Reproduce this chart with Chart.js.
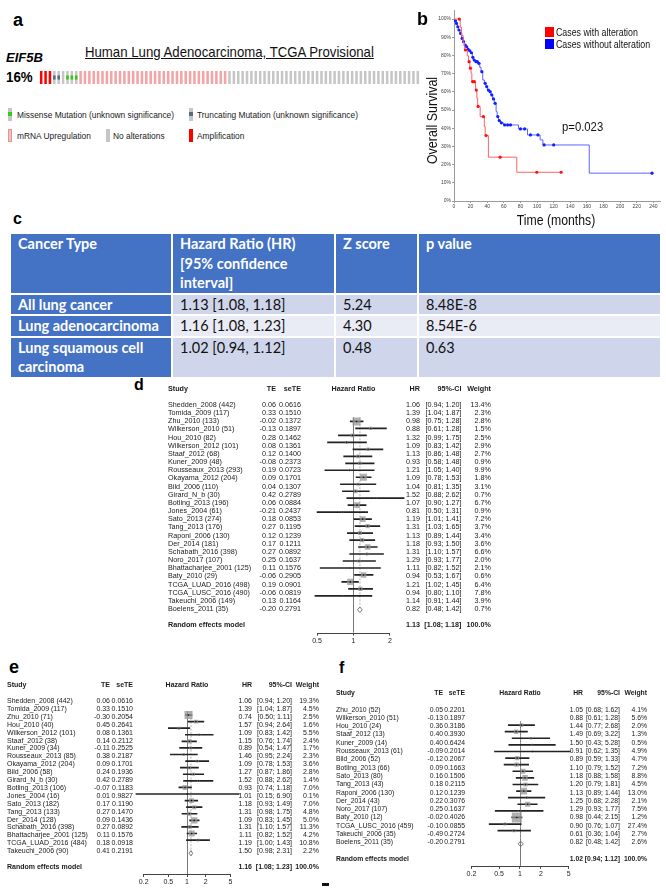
<!DOCTYPE html>
<html>
<head>
<meta charset="utf-8">
<title>EIF5B figure</title>
<script src="https://cdn.jsdelivr.net/npm/chart.js@4.4.1/dist/chart.umd.min.js"></script>
<style>
  html, body { margin: 0; padding: 0; background: #fff; }
  #fig { position: relative; width: 666px; height: 894px; overflow: hidden;
         font-family: "Liberation Sans", Arial, Helvetica, sans-serif; color: #1a1a1a; }
  .t { position: absolute; white-space: nowrap; }
  .box { position: absolute; }
  .box canvas { display: block; }
  .ico { position: absolute; width: 4px; height: 13px; background: #c8c8c8; }
  .ico i { position: absolute; left: 0; top: 4.5px; width: 4px; height: 4px; }
  #tbl { position: absolute; left: 9px; top: 232px; width: 651px; border-collapse: collapse;
         table-layout: fixed; font-family: Lato, "Open Sans", sans-serif; font-size: 14.5px; }
  #tbl td { border: 2px solid #fff; padding: 0 0 0 7px; vertical-align: top; line-height: 19.5px;
            background: #cfd5ea; color: #111; white-space: pre-line; }
  #tbl tr.alt td { background: #e9ebf5; }
  #tbl tr.hd td, #tbl tr td.c1 { background: #4472c4; color: #fff; font-weight: bold; }
</style>
</head>
<body>
<div id="fig">
  <div class="box" style="left:39px;top:71px;width:381px;height:13px"><canvas id="onco" width="381" height="13"></canvas></div>
  <div class="box" style="left:400px;top:0px;width:266px;height:230px"><canvas id="km" width="266" height="230"></canvas></div>
  <table id="tbl">
    <colgroup><col style="width:162px"><col style="width:163px"><col style="width:83px"><col style="width:243px"></colgroup>
    <tbody id="tbody"></tbody>
  </table>
  <div class="box" style="left:296px;top:395px;width:124px;height:252px"><canvas id="fd" width="124" height="252"></canvas></div>
  <div class="box" style="left:124px;top:690px;width:126px;height:204px"><canvas id="fe" width="126" height="204"></canvas></div>
  <div class="box" style="left:460px;top:698px;width:122px;height:196px"><canvas id="ff" width="122" height="196"></canvas></div>
  <div class="box" style="left:322px;top:883px;width:7px;height:3px;background:#111"></div>
</div>
<script>
// ---------- data ----------
// panel a: sample runs in the oncoprint (A amplification, T truncating, M missense, U mRNA up, N none)
const oncoRuns = [['A', 3], ['T', 2], ['N', 1], ['M', 3], ['U', 34], ['N', 44]];

// panel b: Kaplan-Meier, cases with alteration
const altTime = [0, 7.5, 9, 11, 12.5, 16, 17.5, 19, 20.5, 21.5, 26, 27.5, 28.5, 31.5, 36.5, 37.5, 41.4, 75.6, 129];
const altSurv = [100, 95.5, 91, 87, 83, 79.8, 76.6, 73, 70.2, 65.6, 61, 56.5, 52, 46.4, 41, 36, 24.1, 15.8, 15.8];
const altCensTime = [6.4, 13.8, 18.2, 19.8, 22.5, 24.5, 26.8, 29, 35.4, 38.6, 55.5, 99.7, 129];
const altCensSurv = [100, 83, 76.6, 73, 65.6, 65.6, 61, 52, 46.4, 36, 24.1, 15.8, 15.8];
// cases without alteration
const noTime = [0, 1.2, 2.4, 4, 5.2, 7.2, 9.2, 10.5, 12.5, 14.5, 16.1, 18.1, 20.1, 22.1, 23.3, 25.3, 29.4, 31, 32.6,
  34.6, 36.6, 38.5, 40.2, 42.6, 44.5, 46.6, 48.5, 50.7, 52, 53.5, 56, 59.5, 77.6, 88.5, 103.7, 107, 162.8, 238.4];
const noSurv = [100, 99.1, 97.6, 95.8, 94, 92.1, 89.4, 87.6, 85.7, 84.8, 83.4, 82.6, 81.5, 79, 77.5, 76.6, 75.7, 73.5, 71.1,
  66.5, 64.7, 62.9, 61, 60.1, 58.3, 56.1, 53.7, 49.1, 46.4, 44.2, 43, 41.8, 39.6, 36.3, 33.6, 30.8, 15.3, 15.3];
const noCensTime = [1.8, 3, 4.6, 6, 8, 9.8, 11.5, 13.5, 15.3, 17, 19, 21, 22.7, 24.3, 26.5, 28, 30, 33.5, 37.5, 39.4,
  41.4, 43.5, 45.5, 47.5, 49.5, 52.7, 54.5, 57, 61, 64.5, 68, 80, 85, 92, 101, 108.5, 120, 238.4];
const noCensSurv = [99.1, 97.6, 95.8, 94, 92.1, 89.4, 87.6, 85.7, 84.8, 83.4, 82.6, 81.5, 79, 77.5, 76.6, 76.6, 75.7, 71.1, 64.7, 62.9,
  61, 60.1, 58.3, 56.1, 53.7, 46.4, 44.2, 43, 41.8, 41.8, 41.8, 39.6, 39.6, 36.3, 36.3, 30.8, 30.8, 15.3];
const kmXTicks = [0, 20, 40, 60, 80, 100, 120, 140, 160, 180, 200, 220, 240];
const kmYTicks = [0, 10, 20, 30, 40, 50, 60, 70, 80, 90, 100];

// panel c: table
const tblHead = ['Cancer Type', 'Hazard Ratio (HR)\n[95% confidence\ninterval]', 'Z score', 'p value'];
const tblType = ['All lung cancer', 'Lung adenocarcinoma', 'Lung squamous cell\ncarcinoma'];
const tblHR = ['1.13 [1.08, 1.18]', '1.16 [1.08, 1.23]', '1.02 [0.94, 1.12]'];
const tblZ = ['5.24', '4.30', '0.48'];
const tblP = ['8.48E-8', '8.54E-6', '0.63'];

// panel d: all lung cancer
const dStudy = ['Shedden_2008 (442)', 'Tomida_2009 (117)', 'Zhu_2010 (133)', 'Wilkerson_2010 (51)', 'Hou_2010 (82)',
  'Wilkerson_2012 (101)', 'Staaf_2012 (68)', 'Kuner_2009 (48)', 'Rousseaux_2013 (293)', 'Okayama_2012 (204)',
  'Bild_2006 (110)', 'Girard_N_b (30)', 'Botling_2013 (196)', 'Jones_2004 (61)', 'Sato_2013 (274)', 'Tang_2013 (176)',
  'Raponi_2006 (130)', 'Der_2014 (181)', 'Schabath_2016 (398)', 'Noro_2017 (107)', 'Bhattacharjee_2001 (125)',
  'Baty_2010 (29)', 'TCGA_LUAD_2016 (498)', 'TCGA_LUSC_2016 (490)', 'Takeuchi_2006 (149)', 'Boelens_2011 (35)'];
const dTE = [0.06, 0.33, -0.02, -0.13, 0.28, 0.08, 0.12, -0.08, 0.19, 0.09, 0.04, 0.42, 0.06, -0.21, 0.18, 0.27, 0.12,
  0.17, 0.27, 0.25, 0.11, -0.06, 0.19, -0.06, 0.13, -0.20];
const dSeTE = [0.0616, 0.1510, 0.1372, 0.1897, 0.1462, 0.1361, 0.1400, 0.2373, 0.0723, 0.1701, 0.1307, 0.2789, 0.0884,
  0.2437, 0.0853, 0.1195, 0.1239, 0.1211, 0.0892, 0.1637, 0.1576, 0.2905, 0.0901, 0.0819, 0.1164, 0.2791];
const dHR = [1.06, 1.39, 0.98, 0.88, 1.32, 1.09, 1.13, 0.93, 1.21, 1.09, 1.04, 1.52, 1.07, 0.81, 1.19, 1.31, 1.13, 1.18,
  1.31, 1.29, 1.11, 0.94, 1.21, 0.94, 1.14, 0.82];
const dLo = [0.94, 1.04, 0.75, 0.61, 0.99, 0.83, 0.86, 0.58, 1.05, 0.78, 0.81, 0.88, 0.90, 0.50, 1.01, 1.03, 0.89, 0.93,
  1.10, 0.93, 0.82, 0.53, 1.02, 0.80, 0.91, 0.48];
const dHi = [1.20, 1.87, 1.28, 1.28, 1.75, 1.42, 1.48, 1.48, 1.40, 1.53, 1.35, 2.62, 1.27, 1.31, 1.41, 1.65, 1.44, 1.50,
  1.57, 1.77, 1.52, 1.67, 1.45, 1.10, 1.44, 1.42];
const dWt = [13.4, 2.3, 2.8, 1.5, 2.5, 2.9, 2.7, 0.9, 9.9, 1.8, 3.1, 0.7, 6.7, 0.9, 7.2, 3.7, 3.4, 3.6, 6.6, 2.0, 2.1,
  0.6, 6.4, 7.8, 3.9, 0.7];
const dRE = [1.13, 1.08, 1.18];
const dTicks = [0.5, 1, 2];

// panel e: lung adenocarcinoma
const eStudy = ['Shedden_2008 (442)', 'Tomida_2009 (117)', 'Zhu_2010 (71)', 'Hou_2010 (40)', 'Wilkerson_2012 (101)',
  'Staaf_2012 (38)', 'Kuner_2009 (34)', 'Rousseaux_2013 (85)', 'Okayama_2012 (204)', 'Bild_2006 (58)', 'Girard_N_b (30)',
  'Botling_2013 (106)', 'Jones_2004 (16)', 'Sato_2013 (182)', 'Tang_2013 (133)', 'Der_2014 (128)', 'Schabath_2016 (398)',
  'Bhattacharjee_2001 (125)', 'TCGA_LUAD_2016 (484)', 'Takeuchi_2006 (90)'];
const eTE = [0.06, 0.33, -0.30, 0.45, 0.08, 0.14, -0.11, 0.38, 0.09, 0.24, 0.42, -0.07, 0.01, 0.17, 0.27, 0.09, 0.27,
  0.11, 0.18, 0.41];
const eSeTE = [0.0616, 0.1510, 0.2054, 0.2641, 0.1361, 0.2112, 0.2525, 0.2187, 0.1701, 0.1936, 0.2789, 0.1183, 0.9827,
  0.1190, 0.1470, 0.1436, 0.0892, 0.1576, 0.0918, 0.2191];
const eHR = [1.06, 1.39, 0.74, 1.57, 1.09, 1.15, 0.89, 1.46, 1.09, 1.27, 1.52, 0.93, 1.01, 1.18, 1.31, 1.09, 1.31, 1.11,
  1.19, 1.50];
const eLo = [0.94, 1.04, 0.50, 0.94, 0.83, 0.76, 0.54, 0.95, 0.78, 0.87, 0.88, 0.74, 0.15, 0.93, 0.98, 0.83, 1.10, 0.82,
  1.00, 0.98];
const eHi = [1.20, 1.87, 1.11, 2.64, 1.42, 1.74, 1.47, 2.24, 1.53, 1.86, 2.62, 1.18, 6.90, 1.49, 1.75, 1.45, 1.57, 1.52,
  1.43, 2.31];
const eWt = [19.3, 4.5, 2.5, 1.6, 5.5, 2.4, 1.7, 2.3, 3.6, 2.8, 1.4, 7.0, 0.1, 7.0, 4.8, 5.0, 11.3, 4.2, 10.8, 2.2];
const eRE = [1.16, 1.08, 1.23];

// panel f: lung squamous cell carcinoma
const fStudy = ['Zhu_2010 (52)', 'Wilkerson_2010 (51)', 'Hou_2010 (24)', 'Staaf_2012 (13)', 'Kuner_2009 (14)',
  'Rousseaux_2013 (61)', 'Bild_2006 (52)', 'Botling_2013 (66)', 'Sato_2013 (80)', 'Tang_2013 (43)', 'Raponi_2006 (130)',
  'Der_2014 (43)', 'Noro_2017 (107)', 'Baty_2010 (12)', 'TCGA_LUSC_2016 (459)', 'Takeuchi_2006 (35)', 'Boelens_2011 (35)'];
const fTE = [0.05, -0.13, 0.36, 0.40, 0.40, -0.09, -0.12, 0.09, 0.16, 0.18, 0.12, 0.22, 0.25, -0.02, -0.10, -0.49, -0.20];
const fSeTE = [0.2201, 0.1897, 0.3186, 0.3930, 0.6424, 0.2014, 0.2067, 0.1663, 0.1506, 0.2115, 0.1239, 0.3076, 0.1637,
  0.4026, 0.0855, 0.2724, 0.2791];
const fHR = [1.05, 0.88, 1.44, 1.49, 1.50, 0.91, 0.89, 1.10, 1.18, 1.20, 1.13, 1.25, 1.29, 0.98, 0.90, 0.61, 0.82];
const fLo = [0.68, 0.61, 0.77, 0.69, 0.43, 0.62, 0.59, 0.79, 0.88, 0.79, 0.89, 0.68, 0.93, 0.44, 0.76, 0.36, 0.48];
const fHi = [1.62, 1.28, 2.68, 3.22, 5.28, 1.35, 1.33, 1.52, 1.58, 1.81, 1.44, 2.28, 1.77, 2.15, 1.07, 1.04, 1.42];
const fWt = [4.1, 5.6, 2.0, 1.3, 0.5, 4.9, 4.7, 7.2, 8.8, 4.5, 13.0, 2.1, 7.5, 1.2, 27.4, 2.7, 2.6];
const fRE = [1.02, 0.94, 1.12];
const efTicks = [0.2, 0.5, 1, 2, 5];

// ---------- helpers ----------
Chart.defaults.font.family = '"Liberation Sans", Arial, sans-serif';
const fig = document.getElementById('fig');

function put(s, x, y, o = {}) {
  const el = document.createElement('div');
  el.className = 't';
  el.textContent = s;
  const fs = o.size || 7;
  const lh = Math.ceil(fs * 1.3);
  const w = o.w || 60;
  el.style.fontSize = fs + 'px';
  el.style.lineHeight = lh + 'px';
  el.style.top = (y - lh / 2) + 'px';
  if (o.bold) el.style.fontWeight = 'bold';
  if (o.italic) el.style.fontStyle = 'italic';
  if (o.color) el.style.color = o.color;
  if (o.underline) el.style.textDecoration = 'underline';
  if (o.align === 'right') {
    el.style.left = (x - w) + 'px'; el.style.width = w + 'px'; el.style.textAlign = 'right';
    el.style.transformOrigin = '100% 50%';
  } else if (o.align === 'center') {
    el.style.left = (x - w / 2) + 'px'; el.style.width = w + 'px'; el.style.textAlign = 'center';
    el.style.transformOrigin = '50% 50%';
  } else {
    el.style.left = x + 'px'; el.style.transformOrigin = '0 50%';
  }
  const tr = [];
  if (o.rotate) tr.push('rotate(' + o.rotate + 'deg)');
  if (o.sx) tr.push('scaleX(' + o.sx + ')');
  if (tr.length) el.style.transform = tr.join(' ');
  fig.appendChild(el);
  return el;
}

function icon(x, y, bg, mark, border) {
  const el = document.createElement('div');
  el.className = 'ico';
  el.style.left = x + 'px';
  el.style.top = y + 'px';
  el.style.background = bg;
  if (border) { el.style.boxSizing = 'border-box'; el.style.border = border; }
  if (mark) { const i = document.createElement('i'); i.style.background = mark; el.appendChild(i); }
  fig.appendChild(el);
}

// ---------- panel a ----------
put('a', 13, 20, { size: 18, bold: true, color: '#000' });
put('EIF5B', 6, 57, { size: 13, bold: true, italic: true, color: '#000' });
put('Human Lung Adenocarcinoma, TCGA Provisional', 85, 52, { size: 15, underline: true, sx: 0.88, color: '#111' });
put('16%', 6, 77, { size: 14, bold: true, sx: 0.95, color: '#000' });

const oncoSamples = oncoRuns.flatMap(([t, n]) => Array(n).fill(t));
const oncoFill = { A: '#ff0000', T: '#c6c6c6', M: '#c6c6c6', U: '#f4a4a4', N: '#c6c6c6' };
const oncoMark = { T: '#5a6b7c', M: '#35c81c' };

new Chart(document.getElementById('onco'), {
  type: 'bar',
  data: {
    labels: oncoSamples.map((_, i) => i + 1),
    datasets: [
      { data: oncoSamples.map(() => 1), backgroundColor: oncoSamples.map(t => oncoFill[t]),
        barPercentage: 0.58, categoryPercentage: 1, grouped: false, order: 2 },
      { data: oncoSamples.map(t => (oncoMark[t] ? [0.34, 0.66] : null)),
        backgroundColor: oncoSamples.map(t => oncoMark[t] || 'transparent'),
        barPercentage: 0.58, categoryPercentage: 1, grouped: false, order: 1 }
    ]
  },
  options: {
    responsive: false, animation: false,
    layout: { padding: 0 },
    plugins: { legend: { display: false }, tooltip: { enabled: false } },
    scales: { x: { display: false }, y: { display: false, min: 0, max: 1 } }
  }
});

icon(8, 107.5, '#c6c6c6', '#35c81c');
put('Missense Mutation (unknown significance)', 17, 114, { size: 9.5, sx: 0.88 });
icon(189, 107.5, '#c6c6c6', '#5a6b7c');
put('Truncating Mutation (unknown significance)', 197, 114, { size: 9.5, sx: 0.88 });
icon(8, 128.5, '#eac4c4', null, '1px solid #f09090');
put('mRNA Upregulation', 17, 135, { size: 9.5, sx: 0.88 });
icon(106, 128.5, '#c6c6c6');
put('No alterations', 113, 135, { size: 9.5, sx: 0.88 });
icon(189, 128.5, '#ff0000');
put('Amplification', 197, 135, { size: 9.5, sx: 0.88 });

// ---------- panel b ----------
put('b', 417, 19, { size: 18, bold: true, color: '#000' });
const pts = (xs, ys) => xs.map((v, i) => ({ x: v, y: ys[i] }));

new Chart(document.getElementById('km'), {
  type: 'line',
  data: {
    datasets: [
      { data: pts(noTime, noSurv), stepped: true, borderColor: '#5b66ff', borderWidth: 1, pointRadius: 0, order: 4 },
      { data: pts(noCensTime, noCensSurv), showLine: false, pointRadius: 1.6, backgroundColor: '#1020ff',
        borderWidth: 0, order: 3 },
      { data: pts(altTime, altSurv), stepped: true, borderColor: '#ff6060', borderWidth: 1, pointRadius: 0, order: 2 },
      { data: pts(altCensTime, altCensSurv), showLine: false, pointRadius: 1.6, backgroundColor: '#ff1010',
        borderWidth: 0, order: 1 }
    ]
  },
  options: {
    responsive: false, animation: false,
    layout: { padding: { top: 10, left: 0, right: 6, bottom: 15 } },
    plugins: { legend: { display: false }, tooltip: { enabled: false } },
    scales: {
      x: {
        type: 'linear', min: 0, max: 248,
        afterBuildTicks: s => { s.ticks = kmXTicks.map(v => ({ value: v })); },
        afterFit: s => { s.height = 14; },
        ticks: { font: { size: 5 }, color: '#444', padding: 1, maxRotation: 0, autoSkip: false },
        grid: { drawOnChartArea: false, tickLength: 2, color: '#9a9a9a' },
        border: { color: '#9a9a9a' }
      },
      y: {
        type: 'linear', min: 0, max: 105,
        afterBuildTicks: s => { s.ticks = kmYTicks.map(v => ({ value: v })); },
        afterFit: s => { s.width = 54; },
        ticks: { font: { size: 5 }, color: '#444', padding: 1, callback: v => v + '%' },
        grid: { drawOnChartArea: false, tickLength: 2, color: '#9a9a9a' },
        border: { color: '#9a9a9a' }
      }
    }
  }
});

put('Overall Survival', 432, 120, { size: 14, align: 'center', w: 120, rotate: -90, sx: 0.89, color: '#111' });
put('Time (months)', 555.5, 220, { size: 14, align: 'center', w: 110, sx: 0.875, color: '#111' });
put('p=0.023', 562, 126, { size: 13, sx: 0.87, color: '#111' });
const kmLeg = [['Cases with alteration', '#ff0000', 32], ['Cases without alteration', '#0000ff', 43.5]];
kmLeg.forEach(([s, c, y]) => {
  const sq = document.createElement('div');
  sq.className = 'box';
  Object.assign(sq.style, { left: '545px', top: (y - 5) + 'px', width: '9px', height: '10px', background: c });
  fig.appendChild(sq);
  put(s, 556, y, { size: 10.5, sx: 0.84, color: '#111' });
});

// ---------- panel c ----------
put('c', 13, 218, { size: 16, bold: true, color: '#000' });
const tbody = document.getElementById('tbody');
function row(cells, cls, h, firstCls) {
  const tr = document.createElement('tr');
  if (cls) tr.className = cls;
  tr.style.height = h + 'px';
  cells.forEach((s, i) => {
    const td = document.createElement('td');
    td.textContent = s;
    if (i === 0 && firstCls) td.className = firstCls;
    tr.appendChild(td);
  });
  tbody.appendChild(tr);
}
row(tblHead, 'hd', 58);
tblType.forEach((s, i) => row([s, tblHR[i], tblZ[i], tblP[i]], i === 1 ? 'alt' : '', i === 2 ? 39 : 19, 'c1'));

// ---------- forest plots ----------
const forestGuides = {
  id: 'forestGuides',
  beforeDatasetsDraw(chart, args, o) {
    const { ctx, scales: { x, y }, chartArea } = chart;
    ctx.save();
    const x1 = Math.round(x.getPixelForValue(1)) + 0.5;
    ctx.strokeStyle = '#555';
    ctx.lineWidth = 0.8;
    ctx.beginPath();
    ctx.moveTo(x1, y.getPixelForValue(-0.6));
    ctx.lineTo(x1, chartArea.bottom);
    ctx.stroke();
    const xp = x.getPixelForValue(o.pooled);
    ctx.strokeStyle = '#a0a0a0';
    ctx.setLineDash([2, 1.5]);
    ctx.beginPath();
    ctx.moveTo(xp, y.getPixelForValue(-0.6));
    ctx.lineTo(xp, y.getPixelForValue(o.reRow - 0.45));
    ctx.stroke();
    ctx.restore();
  },
  afterDraw(chart) {
    const { ctx, scales: { x }, chartArea } = chart;
    const t = x.ticks;
    const yb = Math.round(chartArea.bottom) + 0.5;
    ctx.save();
    ctx.strokeStyle = '#444';
    ctx.lineWidth = 1;
    ctx.beginPath();
    ctx.moveTo(x.getPixelForValue(t[0].value), yb);
    ctx.lineTo(x.getPixelForValue(t[t.length - 1].value), yb);
    ctx.stroke();
    ctx.restore();
  }
};

function forest(p) {
  const { L, T, W, H } = p.box;
  const top = p.y0 + p.yMin * p.pitch;
  const bottom = p.y0 + p.yMax * p.pitch;
  const left = p.x1 + p.ppd * Math.log10(p.min);
  const right = p.x1 + p.ppd * Math.log10(p.max);
  const R = p.hr.length + 1;
  const at = (v, i) => ({ x: v, y: i });
  new Chart(document.getElementById(p.id), {
    type: 'scatter',
    data: {
      datasets: [
        { type: 'bar', indexAxis: 'y', data: p.hr.map((v, i) => ({ x: [p.lo[i], p.hi[i]], y: i })),
          barThickness: 1, backgroundColor: '#222', borderWidth: 0, order: 4 },
        { data: p.hr.map(at), pointStyle: 'rect', pointRadius: p.wt.map(w => p.boxK * Math.sqrt(w) / Math.SQRT2),
          backgroundColor: 'rgba(150,150,150,0.75)', borderWidth: 0, order: 3 },
        { data: p.hr.map(at), pointRadius: 0.8, backgroundColor: '#111', borderWidth: 0, order: 2 },
        { type: 'line', data: [at(p.re[1], R), at(p.re[0], R - 0.4), at(p.re[2], R), at(p.re[0], R + 0.4), at(p.re[1], R)],
          borderColor: '#666', borderWidth: 0.9, pointRadius: 0, fill: false, tension: 0, order: 1 }
      ]
    },
    options: {
      responsive: false, animation: false,
      layout: { padding: { left: left - L, right: L + W - right, top: top - T, bottom: T + H - bottom - 12 } },
      plugins: { legend: { display: false }, tooltip: { enabled: false }, forestGuides: { pooled: p.re[0], reRow: R } },
      scales: {
        x: {
          type: 'logarithmic', min: p.min, max: p.max, bounds: 'data',
          afterBuildTicks: s => { s.ticks = p.ticks.map(v => ({ value: v })); },
          afterFit: s => { s.height = 12; },
          ticks: { font: { size: 7 }, color: '#222', padding: 1, maxRotation: 0, autoSkip: false, callback: v => String(v) },
          grid: { drawOnChartArea: false, tickLength: 3, color: '#444' },
          border: { display: false }
        },
        y: { type: 'linear', display: false, reverse: true, min: p.yMin, max: p.yMax }
      }
    },
    plugins: [forestGuides]
  });

  // text columns
  const c = p.cols, fs = p.font;
  const yr = i => p.y0 + i * p.pitch;
  put('Study', c.study, yr(-2), { size: fs, bold: true });
  put('TE', c.te, yr(-2), { size: fs, bold: true, align: 'right', w: 20 });
  put('seTE', c.se, yr(-2), { size: fs, bold: true, align: 'right', w: 22 });
  put('Hazard Ratio', p.x1, yr(-2), { size: fs, bold: true, align: 'center', w: 56 });
  put('HR', c.hr, yr(-2), { size: fs, bold: true, align: 'right', w: 20 });
  put('95%-CI', c.ci, yr(-2), { size: fs, bold: true, align: 'right', w: 34 });
  put('Weight', c.wt, yr(-2), { size: fs, bold: true, align: 'right', w: 26 });
  p.study.forEach((s, i) => {
    put(s, c.study, yr(i), { size: fs });
    put(p.te[i].toFixed(2), c.te, yr(i), { size: fs, align: 'right', w: 20 });
    put(p.se[i].toFixed(4), c.se, yr(i), { size: fs, align: 'right', w: 24 });
    put(p.hr[i].toFixed(2), c.hr, yr(i), { size: fs, align: 'right', w: 18 });
    put('[' + p.lo[i].toFixed(2) + '; ' + p.hi[i].toFixed(2) + ']', c.ci, yr(i), { size: fs, align: 'right', w: 38 });
    put(p.wt[i].toFixed(1) + '%', c.wt, yr(i), { size: fs, align: 'right', w: 24 });
  });
  put('Random effects model', c.study, yr(R), { size: fs, bold: true });
  put(p.re[0].toFixed(2), c.hr, yr(R), { size: fs, bold: true, align: 'right', w: 18 });
  put('[' + p.re[1].toFixed(2) + '; ' + p.re[2].toFixed(2) + ']', c.ci, yr(R), { size: fs, bold: true, align: 'right', w: 40 });
  put('100.0%', c.wt, yr(R), { size: fs, bold: true, align: 'right', w: 28 });
}

put('d', 134, 384, { size: 16, bold: true, color: '#000' });
forest({
  id: 'fd', box: { L: 296, T: 395, W: 124, H: 252 },
  study: dStudy, te: dTE, se: dSeTE, hr: dHR, lo: dLo, hi: dHi, wt: dWt, re: dRE, ticks: dTicks,
  y0: 405, pitch: 8.16, yMin: -0.6, yMax: 27.9, x1: 353.5, ppd: 121, min: 0.45, max: 2.75, boxK: 2.2,
  font: 7.2, cols: { study: 168, te: 276, se: 301, hr: 420, ci: 461.5, wt: 491 }
});

put('e', 9, 667, { size: 18, bold: true, color: '#000' });
forest({
  id: 'fe', box: { L: 124, T: 690, W: 126, H: 204 },
  study: eStudy, te: eTE, se: eSeTE, hr: eHR, lo: eLo, hi: eHi, wt: eWt, re: eRE, ticks: efTicks,
  y0: 701, pitch: 7.9, yMin: -0.6, yMax: 21.9, x1: 187, ppd: 62, min: 0.14, max: 7.2, boxK: 1.85,
  font: 7, cols: { study: 7, te: 110, se: 133, hr: 252, ci: 292, wt: 319 }
});

put('f', 339, 667, { size: 16, bold: true, color: '#000' });
forest({
  id: 'ff', box: { L: 460, T: 698, W: 122, H: 196 },
  study: fStudy, te: fTE, se: fSeTE, hr: fHR, lo: fLo, hi: fHi, wt: fWt, re: fRE, ticks: efTicks,
  y0: 709, pitch: 8.3, yMin: -0.6, yMax: 18.9, x1: 520, ppd: 69.5, min: 0.19, max: 5.7, boxK: 1.9,
  font: 6.8, cols: { study: 336, te: 443, se: 465, hr: 583, ci: 620, wt: 647 }
});
</script>
</body>
</html>
